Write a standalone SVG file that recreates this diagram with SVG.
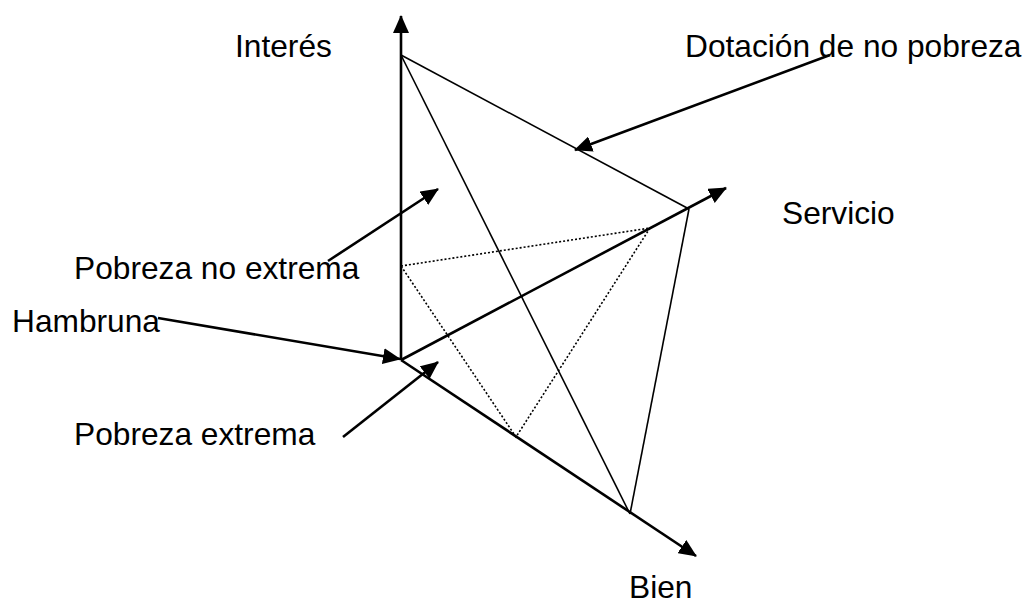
<svg xmlns="http://www.w3.org/2000/svg" width="1026" height="610" viewBox="0 0 1026 610">
<style>
.lbl{font-family:"Liberation Sans",Arial,sans-serif;font-size:31.7px;fill:#000}
.axis{stroke:#000;stroke-width:2.6;fill:none}
.edge{stroke:#000;stroke-width:1.6;fill:none}
.dot{stroke:#000;stroke-width:1.6;stroke-dasharray:2 2;fill:none}
</style>
<defs>
<marker id="ah" markerUnits="userSpaceOnUse" markerWidth="18" markerHeight="16" refX="17" refY="8" orient="auto" viewBox="0 0 18 16">
<path d="M0,0 L18,8 L0,16 z" fill="#000"/>
</marker>
</defs>
<rect width="1026" height="610" fill="#fff"/>
<g id="connectors">
<line class="axis" x1="401" y1="360" x2="401" y2="16" marker-end="url(#ah)"/>
<line class="axis" x1="401" y1="360" x2="726" y2="188" marker-end="url(#ah)"/>
<line class="axis" x1="401" y1="360" x2="696" y2="556" marker-end="url(#ah)"/>
<line class="edge" x1="401" y1="55" x2="689" y2="209"/>
<line class="edge" x1="401" y1="55" x2="630" y2="514"/>
<line class="edge" x1="689" y1="209" x2="630" y2="514"/>
<polyline class="dot" points="401,266 650,228 516,437 401,266"/>
<line class="axis" x1="830" y1="55" x2="575" y2="150" marker-end="url(#ah)"/>
<line class="axis" x1="328" y1="261" x2="438" y2="189" marker-end="url(#ah)"/>
<line class="axis" x1="158" y1="318" x2="400" y2="359" marker-end="url(#ah)"/>
<line class="axis" x1="343" y1="437" x2="438" y2="362" marker-end="url(#ah)"/>
</g>
<g id="interes"><text class="lbl" x="235" y="57">Interés</text></g>
<g id="dotacion"><text class="lbl" x="685" y="57">Dotación de no pobreza</text></g>
<g id="servicio"><text class="lbl" x="782" y="224">Servicio</text></g>
<g id="pobreza-no-extrema"><text class="lbl" x="74" y="279">Pobreza no extrema</text></g>
<g id="hambruna"><text class="lbl" x="12" y="332">Hambruna</text></g>
<g id="pobreza-extrema"><text class="lbl" x="74" y="445">Pobreza extrema</text></g>
<g id="bien"><text class="lbl" x="629" y="598">Bien</text></g>
</svg>
